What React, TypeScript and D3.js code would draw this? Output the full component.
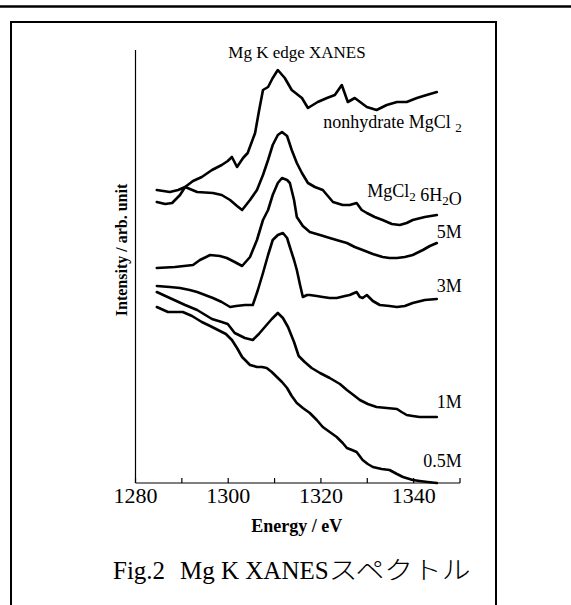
import React, { useEffect, useRef } from 'react';
import { select, scaleLinear, line } from 'd3';

// Mg K edge XANES, energies in eV, intensity in arb. units
const xMajorTicks = [1280, 1300, 1320, 1340];
const xMinorTicks = [1290, 1310, 1330, 1350];

const nonhydrateE = [1284.6, 1286.4, 1287.9, 1289.6, 1290.7, 1292.4, 1294.3, 1296.5, 1298.6, 1299.9, 1300.8, 1301.9, 1303.2, 1304.2, 1305.8, 1306.6, 1307.5, 1308.6, 1309.6, 1310.7, 1312.2, 1313.7, 1315.9, 1317.2, 1319.3, 1321.3, 1323.0, 1324.5, 1325.8, 1327.3, 1329.9, 1332.0, 1334.2, 1336.4, 1338.5, 1340.7, 1342.8, 1345.0];
const nonhydrateI = [2.81, 2.79, 2.80, 2.88, 2.96, 3.02, 3.06, 3.13, 3.18, 3.22, 3.26, 3.16, 3.25, 3.30, 3.50, 3.71, 3.93, 3.96, 4.05, 4.13, 4.05, 3.93, 3.85, 3.75, 3.81, 3.85, 3.88, 3.98, 3.81, 3.85, 3.76, 3.73, 3.78, 3.81, 3.81, 3.85, 3.88, 3.91];

const hexahydrateE = [1284.6, 1287.4, 1289.2, 1290.7, 1293.3, 1296.7, 1298.6, 1300.4, 1301.9, 1303.0, 1304.7, 1306.2, 1307.5, 1308.6, 1309.6, 1310.7, 1311.6, 1312.7, 1313.7, 1314.8, 1315.9, 1317.2, 1318.7, 1320.4, 1322.6, 1324.7, 1326.2, 1327.7, 1328.8, 1329.9, 1331.6, 1333.3, 1335.3, 1337.0, 1338.5, 1339.8, 1342.4, 1345.0];
const hexahydrateI = [2.93, 2.91, 2.93, 2.96, 2.91, 2.90, 2.88, 2.83, 2.77, 2.73, 2.83, 2.93, 3.08, 3.23, 3.38, 3.48, 3.51, 3.47, 3.33, 3.20, 3.10, 3.00, 2.96, 2.93, 2.81, 2.78, 2.78, 2.80, 2.73, 2.70, 2.66, 2.63, 2.59, 2.58, 2.60, 2.63, 2.66, 2.68];

const m5E = [1284.6, 1288.5, 1292.4, 1293.9, 1296.1, 1298.2, 1299.7, 1301.4, 1303.0, 1304.7, 1306.2, 1307.5, 1308.6, 1309.6, 1310.7, 1311.6, 1312.7, 1313.3, 1314.2, 1314.8, 1316.1, 1317.6, 1319.8, 1321.9, 1324.1, 1325.6, 1327.3, 1329.0, 1331.2, 1333.3, 1334.8, 1336.4, 1338.1, 1339.8, 1342.0, 1343.5, 1345.0];
const m5I = [2.15, 2.16, 2.18, 2.23, 2.28, 2.27, 2.25, 2.21, 2.17, 2.26, 2.43, 2.63, 2.73, 2.88, 3.00, 3.05, 3.03, 3.00, 2.83, 2.66, 2.57, 2.51, 2.48, 2.45, 2.42, 2.40, 2.36, 2.33, 2.29, 2.26, 2.25, 2.25, 2.26, 2.28, 2.33, 2.37, 2.40];

const m3E = [1284.6, 1287.4, 1289.6, 1291.7, 1293.3, 1295.0, 1296.7, 1298.6, 1300.4, 1301.7, 1303.6, 1305.3, 1306.4, 1307.5, 1308.6, 1309.6, 1310.7, 1311.8, 1312.7, 1313.3, 1314.2, 1314.8, 1315.5, 1316.1, 1317.0, 1317.6, 1319.1, 1320.4, 1321.9, 1323.4, 1325.2, 1326.2, 1327.7, 1328.4, 1329.0, 1329.9, 1331.2, 1332.7, 1334.8, 1336.4, 1338.1, 1339.8, 1342.4, 1345.0];
const m3I = [1.97, 1.96, 1.95, 1.93, 1.91, 1.88, 1.85, 1.81, 1.76, 1.77, 1.78, 1.78, 1.93, 2.10, 2.28, 2.43, 2.48, 2.50, 2.45, 2.36, 2.23, 2.13, 1.98, 1.86, 1.88, 1.88, 1.87, 1.86, 1.85, 1.85, 1.87, 1.88, 1.91, 1.86, 1.85, 1.88, 1.82, 1.78, 1.77, 1.76, 1.77, 1.80, 1.83, 1.84];

const m1E = [1284.6, 1287.4, 1290.7, 1293.3, 1296.5, 1298.6, 1299.9, 1301.4, 1303.6, 1305.3, 1306.6, 1307.9, 1309.4, 1310.7, 1311.8, 1312.9, 1314.2, 1315.2, 1316.5, 1318.0, 1319.8, 1321.9, 1324.1, 1325.6, 1327.3, 1328.4, 1330.1, 1332.0, 1334.2, 1336.4, 1337.4, 1338.5, 1339.8, 1341.3, 1343.0, 1345.0];
const m1I = [1.91, 1.85, 1.78, 1.73, 1.64, 1.61, 1.59, 1.50, 1.45, 1.43, 1.49, 1.56, 1.64, 1.70, 1.65, 1.56, 1.41, 1.27, 1.21, 1.15, 1.10, 1.05, 0.99, 0.93, 0.87, 0.83, 0.79, 0.76, 0.75, 0.74, 0.71, 0.68, 0.67, 0.66, 0.66, 0.66];

const m05E = [1284.6, 1287.0, 1290.2, 1292.2, 1294.3, 1296.1, 1297.8, 1299.5, 1300.8, 1301.9, 1303.0, 1304.7, 1306.2, 1307.3, 1308.3, 1309.4, 1310.5, 1311.6, 1312.7, 1313.7, 1314.8, 1316.1, 1317.6, 1319.1, 1320.4, 1321.9, 1323.4, 1324.7, 1325.6, 1326.7, 1327.7, 1329.0, 1330.1, 1331.2, 1333.1, 1334.8, 1336.4, 1337.7, 1339.8, 1341.3, 1343.0, 1345.0];
const m05I = [1.76, 1.71, 1.71, 1.67, 1.61, 1.57, 1.53, 1.49, 1.43, 1.35, 1.26, 1.18, 1.16, 1.16, 1.15, 1.11, 1.06, 1.01, 0.95, 0.87, 0.80, 0.75, 0.70, 0.63, 0.56, 0.51, 0.46, 0.40, 0.35, 0.33, 0.31, 0.23, 0.19, 0.16, 0.14, 0.13, 0.09, 0.06, 0.03, 0.02, 0.01, 0.00];

// label pieces: [text, isSubscript]
const seriesLabels: [string, boolean][][] = [
  [['nonhydrate MgCl ', false], ['2', true]],
  [['MgCl', false], ['2', true], [' 6H', false], ['2', true], ['O', false]],
  [['5M', false]],
  [['3M', false]],
  [['1M', false]],
  [['0.5M', false]]
];

const captionParts = ['Fig.2', 'Mg K XANES', '\u30b9\u30da\u30af\u30c8\u30eb'];

const serif = "'Liberation Serif', 'Times New Roman', serif";

export default function App() {
  const ref = useRef<SVGSVGElement>(null);

  useEffect(() => {
    const svg = select(ref.current);
    svg.selectAll('*').remove();

    const x = scaleLinear().domain([1280, 1350]).range([135.5, 460]);
    const y = scaleLinear().domain([0, 4.33]).range([483, 50]);

    // page rule and figure frame
    svg.append('line')
      .attr('x1', 0).attr('x2', 571).attr('y1', 6.5).attr('y2', 6.5)
      .attr('stroke', '#000').attr('stroke-width', 2.4);
    svg.append('path')
      .attr('d', 'M11,620 V22 H496 V620')
      .attr('fill', 'none').attr('stroke', '#000').attr('stroke-width', 2);

    // axes
    svg.append('line')
      .attr('x1', x(1280)).attr('x2', x(1280)).attr('y1', y(4.33)).attr('y2', y(0))
      .attr('stroke', '#000').attr('stroke-width', 1.2);
    svg.append('line')
      .attr('x1', x(1280)).attr('x2', x(1350)).attr('y1', y(0)).attr('y2', y(0))
      .attr('stroke', '#000').attr('stroke-width', 1.2);

    svg.selectAll('line.tick')
      .data([...xMajorTicks, ...xMinorTicks])
      .enter()
      .append('line')
      .attr('class', 'tick')
      .attr('x1', d => x(d)).attr('x2', d => x(d))
      .attr('y1', y(0)).attr('y2', y(0) - 5)
      .attr('stroke', '#000').attr('stroke-width', 1.2);

    svg.selectAll('text.ticklabel')
      .data(xMajorTicks)
      .enter()
      .append('text')
      .attr('class', 'ticklabel')
      .attr('x', d => x(d)).attr('y', 503)
      .attr('text-anchor', 'middle')
      .attr('font-family', serif).attr('font-size', 22)
      .text(d => d);

    svg.append('text')
      .attr('x', x(1314.8)).attr('y', 532)
      .attr('text-anchor', 'middle')
      .attr('font-family', serif).attr('font-size', 18).attr('font-weight', 'bold')
      .text('Energy / eV');

    svg.append('text')
      .attr('transform', 'translate(127,250) rotate(-90)')
      .attr('text-anchor', 'middle')
      .attr('font-family', serif).attr('font-size', 16).attr('font-weight', 'bold')
      .text('Intensity / arb. unit');

    svg.append('text')
      .attr('x', 297).attr('y', 58)
      .attr('text-anchor', 'middle')
      .attr('font-family', serif).attr('font-size', 17)
      .text('Mg K edge XANES');

    // spectra
    const series = [
      [nonhydrateE, nonhydrateI],
      [hexahydrateE, hexahydrateI],
      [m5E, m5I],
      [m3E, m3I],
      [m1E, m1I],
      [m05E, m05I]
    ];
    const path = line<[number, number]>().x(d => x(d[0])).y(d => y(d[1]));

    series.forEach(([es, is]) => {
      const pts: [number, number][] = es.map((e, i) => [e, is[i]]);
      svg.append('path')
        .attr('d', path(pts))
        .attr('fill', 'none')
        .attr('stroke', '#000')
        .attr('stroke-width', 2.6)
        .attr('stroke-linejoin', 'round')
        .attr('stroke-linecap', 'round');
    });

    // labels sit near the right end of each curve
    const labelShift = [36, -18, -5, -7, -9, -16];
    series.forEach(([es, is], k) => {
      const last = is[is.length - 1];
      const t = svg.append('text')
        .attr('x', x(1350.4))
        .attr('y', y(last) + labelShift[k])
        .attr('text-anchor', 'end')
        .attr('font-family', serif)
        .attr('font-size', 18)
        .attr('xml:space', 'preserve');
      seriesLabels[k].forEach(([txt, sub]) => {
        t.append('tspan')
          .attr('font-size', sub ? 13 : 18)
          .attr('dy', sub ? 4 : 0)
          .text(txt);
        if (sub) t.append('tspan').attr('dy', -4).text('');
      });
    });

    // caption
    const cap = svg.append('text')
      .attr('y', 579)
      .attr('font-family', serif)
      .attr('font-size', 25);
    cap.append('tspan').attr('x', 113).text(captionParts[0]);
    cap.append('tspan').attr('x', 180).text(captionParts[1]);
    cap.append('tspan')
      .attr('font-family', "'Noto Sans CJK JP', sans-serif")
      .attr('font-weight', 300)
      .attr('font-size', 25)
      .attr('textLength', 142)
      .attr('lengthAdjust', 'spacingAndGlyphs')
      .text(captionParts[2]);
  }, []);

  return (
    <div style={{ position: 'absolute', left: 0, top: 0 }}>
      <svg ref={ref} width={571} height={605} style={{ display: 'block', background: '#fff' }} />
    </div>
  );
}
